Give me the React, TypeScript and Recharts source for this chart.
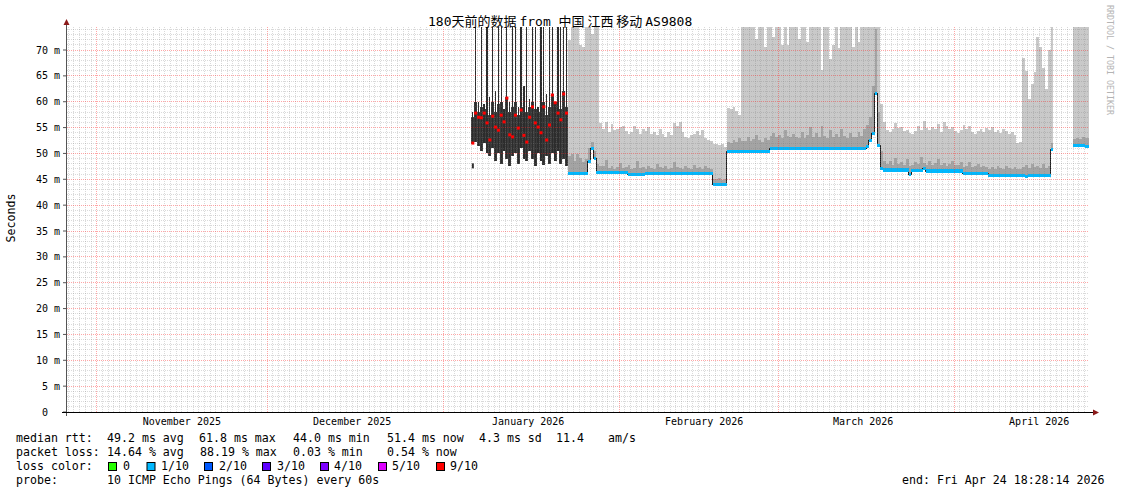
import React from 'react';
import { ComposedChart, Area, Bar, Scatter, XAxis, YAxis, ReferenceLine } from 'recharts';

const W = 1121;
const H = 494;
const MONO = "'DejaVu Sans Mono', monospace";
const CJK = "'Noto Sans CJK SC', sans-serif";

// x axis in days since 1 Nov 2025 00:00; the window is the 180 days up to Fri Apr 24 18:28:14 2026
const END_DAY = 174.77;
const START_DAY = END_DAY - 180;
const MONTH_START = [0, 30, 61, 92, 120, 151];
const MONTH_MID = [15, 45, 76, 107, 135, 166];
const MONTH_LABEL = ['November 2025', 'December 2025', 'January 2026', 'February 2026', 'March 2026', 'April 2026'];

const Y_MAX = 74.45;
const Y_TICKS = [0, 5, 10, 15, 20, 25, 30, 35, 40, 45, 50, 55, 60, 65, 70];

// one sample every 12 h, first one 6 Jan 2026
const SLOT0 = 66;
const SLOT = 0.5;

// 6 Jan - 22 Jan: 9/10 loss, black smoke (ms)
const lossLo = [51.9, 52.2, 51.5, 50.5, 52.0, 50.0, 49.5, 51.0, 48.5, 50.0, 48.0, 50.5, 49.0, 47.5, 49.5, 50.0, 48.0,
  51.0, 49.0, 48.5, 50.5, 49.0, 47.5, 50.0, 48.5, 47.8, 49.5, 48.0, 50.0, 48.5, 50.5, 48.0, 49.0, 47.5];
const lossCore = [57, 60, 58, 59, 58.5, 59, 57.5, 60, 58, 59.5, 60, 57, 61, 58, 59, 60, 57.5,
  59, 60.5, 58, 59, 60, 58.5, 58, 59.5, 60, 57.5, 59, 61.5, 60, 59, 58.5, 62, 59];
const lossHi = [58, 74.4, 60, 74.4, 59.5, 74.4, 61, 74.4, 62, 74.4, 74.4, 58.5, 74.4, 60, 74.4, 74.4, 59,
  74.4, 63, 74.4, 60.5, 74.4, 74.4, 59, 74.4, 74.4, 61.5, 74.4, 74.4, 60, 74.4, 74.4, 74.4, 74.4];
const lossMedian = [52.0, 57.8, 57.0, 56.9, 57.8, 55.9, 52.6, 57.2, 55.1, 54.5, 57.4, 56.1, 60.7, 53.6, 53.2, 57.4, 54.9,
  58.4, 53.5, 52.2, 57.0, 59.0, 55.9, 55.1, 54.0, 59.0, 52.6, 55.5, 61.3, 59.8, 57.8, 56.5, 61.5, 57.8];
const strayPing = [47.6];

// 23 Jan - 24 Apr, 12 h steps (null = no data)
const SMOKE0 = 83;
const smokeHi = [
  72, 74.4, 74.4, 74.4, 71, 70.6, 74.4, 74.4, 73, 74.4, 74.4, 55.8,
  54.8, 56.1, 54.1, 55.7, 54.5, 54.8, 55.1, 55.4, 54.4, 53.8,
  54.1, 55.4, 54.8, 53.8, 54.8, 54.4, 55.1, 53.8, 54.1, 53.5,
  54.8, 53.8, 53.2, 54.1, 53.5, 55.8, 55.4, 56.1, 54.1, 53.2,
  52.9, 53.5, 53.8, 54.4, 53.5, 54.6, 53.0, 52.6, 52.4, 51.8,
  51.9, 51.6, 51.9, 51.2,
  58.8, 58.5, 59.0, 58.2, 57.5, 74.4,
  74.4, 74.4, 74.4, 74.4, 72.2, 74.4, 74.4, 70.6, 74.4, 74.4,
  72.5, 74.4, 74.4, 71.0, 74.4, 71.0, 74.4, 74.4, 74.4, 72.2,
  74.4, 74.4, 71.5, 74.4, 74.4, 74.4, 74.4, 66.1, 74.4, 74.4,
  68.3, 70.9, 74.4, 70.3, 74.4, 74.4, 74.4, 74.4, 70.6, 74.4,
  71.5, 74.4, 74.4, 74.4,
  74.4, 74.4, 74.4, 74.4, 59.5, 56.0,
  54.5, 54.1, 54.8, 55.8, 54.9, 55.2, 54.3, 54.6, 54.0, 53.7,
  54.4, 55.3, 54.6, 56.3, 55.0, 54.5, 55.1, 54.8, 55.6, 54.2,
  56.0, 55.3, 54.7, 55.2, 54.4, 54.0, 54.6, 55.5, 54.8, 55.4,
  54.2, 53.8, 54.4, 54.7, 54.1, 55.0, 54.6, 55.2, 54.1, 54.5,
  53.9, 54.8, 54.3, 53.8, 54.2, 53.6, 52.0, 52.2, 68.5,
  66.0, 60.5, 63.5, 65.7, 72.5, 70.5, 66.5, 62.5, 70.0, 74.4,
  null, null, null, null, null, null, null,
  74.4, 74.4, 74.4, 74.4, 74.4, 74.4,
];
const smokeDark = [
  49.5, 49.8, 48.6, 49.9, 49.2, 48.4, 49.0, 51.0, 52.3, 50.5, 48.0, 47.6,
  47.5, 48.8, 47.2, 47.6, 47.0, 47.4, 48.2, 47.1, 47.3, 47.8,
  47.0, 47.2, 48.5, 47.1, 47.4, 47.0, 47.6, 47.2, 47.0, 48.0,
  47.3, 47.1, 47.5, 47.0, 47.2, 48.3, 47.4, 47.1, 47.0, 47.6,
  47.2, 47.0, 47.8, 47.1, 47.3, 47.0, 47.5, 47.2, 47.0, 45.0,
  45.0, 45.2, 44.9, 45.0,
  52.3, 52.0, 52.6, 52.2, 53.0, 52.4,
  52.5, 53.2, 52.4, 52.8, 53.6, 52.6, 52.3, 53.0, 52.6, 53.3,
  54.0, 53.2, 53.6, 52.9, 54.6, 53.4, 53.1, 53.8, 53.2, 52.9,
  54.2, 53.0, 53.5, 55.1, 53.2, 54.0, 53.1, 55.3, 53.4, 53.0,
  54.5, 53.2, 53.7, 53.1, 54.8, 53.3, 53.0, 53.9, 53.2, 53.1,
  54.2, 53.4, 54.8, 55.5,
  57.0, 63.0, 74.0, 58.0, 50.5, 48.5,
  48.0, 48.6, 47.8, 49.2, 47.9, 48.3, 47.7, 48.9, 47.6, 47.8,
  48.4, 47.9, 49.3, 48.2, 47.7, 48.5, 47.8, 48.1, 49.0, 47.7,
  48.2, 47.6, 47.9, 48.6, 47.7, 47.8, 48.3, 47.4, 47.6, 48.4,
  47.3, 47.5, 47.9, 47.3, 47.6, 47.4, 47.0, 47.3, 46.9, 47.5,
  47.1, 47.0, 47.6, 47.1, 46.9, 47.3, 47.0, 46.9, 47.4, 47.8,
  47.2, 48.0, 47.3, 47.6, 47.1, 47.9, 47.2, 47.5, 52.0,
  null, null, null, null, null, null, null,
  52.8, 53.0, 52.7, 53.2, 52.9, 53.0,
];
const medianRtt = [
  46.2, 46.2, 46.2, 46.2, 46.2, 46.2, 46.2, 48.5, 51.0, 49.0, 46.3, 46.3,
  46.3, 46.3, 46.3, 46.3, 46.3, 46.3, 46.3, 46.3, 46.3, 46.0,
  46.0, 46.0, 46.0, 46.0, 46.0, 46.1, 46.1, 46.1, 46.1, 46.1,
  46.1, 46.1, 46.1, 46.1, 46.1, 46.1, 46.2, 46.2, 46.2, 46.2,
  46.2, 46.2, 46.2, 46.2, 46.2, 46.2, 46.2, 46.2, 46.2, 44.0,
  44.0, 44.0, 44.0, 44.0,
  50.4, 50.4, 50.4, 50.4, 50.4, 50.4,
  50.4, 50.4, 50.4, 50.4, 50.4, 50.4, 50.4, 50.4, 50.4, 51.0,
  51.0, 51.0, 51.0, 51.0, 51.0, 51.0, 51.0, 51.0, 51.0, 51.0,
  51.0, 51.0, 51.0, 51.0, 51.0, 51.0, 51.0, 51.0, 51.0, 51.0,
  51.0, 51.0, 51.0, 51.0, 51.0, 51.0, 51.0, 51.0, 51.0, 51.0,
  51.0, 51.0, 51.0, 51.4,
  52.5, 53.8, 61.6, 51.6, 47.1, 46.8,
  46.8, 46.8, 46.8, 46.8, 46.8, 46.8, 46.8, 46.8, 46.0, 46.7,
  46.7, 46.7, 46.7, 47.1, 46.6, 46.6, 46.6, 46.6, 46.6, 46.6,
  46.6, 46.6, 46.6, 46.6, 46.6, 46.6, 46.6, 46.2, 46.2, 46.2,
  46.2, 46.2, 46.2, 46.2, 46.2, 46.2, 45.8, 45.8, 45.8, 45.8,
  45.8, 45.8, 45.8, 45.8, 45.8, 45.8, 45.8, 45.8, 45.8,
  45.5, 45.8, 45.8, 45.8, 45.8, 45.8, 45.8, 45.8, 45.8, 50.8,
  null, null, null, null, null, null, null,
  51.6, 51.6, 51.6, 51.6, 51.3, 51.4,
];

const LOSS_LABELS = ['0', '1/10', '2/10', '3/10', '4/10', '5/10', '9/10'];
const LOSS_COLORS = ['#26ff00', '#00b8ff', '#0059ff', '#5e00ff', '#7e00ff', '#dd00ff', '#ff0000'];

const barRows = lossLo.map((lo, i) => ({ d: SLOT0 + i * SLOT + SLOT / 2, range: [lo, lossHi[i]] }));
const redRows = lossMedian.map((v, i) => ({ d: SLOT0 + i * SLOT + SLOT / 2, v }));
const strayRows = strayPing.map((v) => ({ d: SLOT0 + SLOT / 2, v }));
const coreRows = lossLo.map((lo, i) => ({ d: SLOT0 + i * SLOT, lo, core: lossCore[i] }));
coreRows.push({ d: SLOT0 + lossLo.length * SLOT, lo: lossLo[lossLo.length - 1], core: lossCore[lossCore.length - 1] });

type SmokeRow = { d: number; med: number | null; dk: number | null; hi: number | null };
const smokeRows: SmokeRow[] = [];
medianRtt.forEach((m, k) => {
  const d = SMOKE0 + k * SLOT;
  smokeRows.push({ d, med: m, dk: smokeDark[k], hi: smokeHi[k] });
  // step-after needs a closing point at the end of every run
  if (m != null && (k === medianRtt.length - 1 || medianRtt[k + 1] == null)) {
    smokeRows.push({ d: d + SLOT, med: m, dk: smokeDark[k], hi: smokeHi[k] });
  }
});

const minorDays: number[] = [];
for (let d = Math.ceil(START_DAY); d < END_DAY; d++) if (!MONTH_START.includes(d)) minorDays.push(d);
const minorMs: number[] = [];
for (let v = 1; v < Y_MAX; v++) if (v % 5 !== 0) minorMs.push(v);

const css = `
.recharts-reference-line line, .recharts-area path, .recharts-bar-rectangle path { shape-rendering: crispEdges; }
`;

function MonthTick(p: any) {
  const i = MONTH_MID.indexOf(p.payload.value);
  return (
    <text x={p.x} y={p.y} textAnchor="middle" dominantBaseline="central" fontFamily={MONO} fontSize={10} fill="#000">
      {MONTH_LABEL[i]}
    </text>
  );
}

function MsTick(p: any) {
  const v = p.payload.value;
  return (
    <text x={v === 0 ? p.x - 12 : p.x} y={p.y} textAnchor="end" dominantBaseline="central" fontFamily={MONO} fontSize={10} fill="#000">
      {v === 0 ? '0' : `${v} m`}
    </text>
  );
}

const legendText = { fontFamily: MONO, fontSize: 11.6, fill: '#000', dominantBaseline: 'central' as const };
const BOX_X = [108, 146.5, 204, 262, 320, 378, 436];
const BOX_LABEL_X = [123, 161, 219, 277, 334, 392, 450];

export default function App() {
  return (
    <div style={{ position: 'fixed', left: 0, top: 0, width: W, height: H, background: '#fff' }}>
      <style>{css}</style>
      <ComposedChart width={W} height={H} data={barRows} margin={{ top: 27, right: 32, bottom: 52, left: 0 }}>
        <XAxis
          type="number"
          dataKey="d"
          domain={[START_DAY, END_DAY]}
          allowDataOverflow
          ticks={MONTH_MID}
          interval={0}
          tick={MonthTick}
          tickLine={false}
          axisLine={false}
          tickSize={0}
          tickMargin={9}
          height={30}
        />
        <YAxis
          type="number"
          domain={[0, Y_MAX]}
          allowDataOverflow
          ticks={Y_TICKS}
          interval={0}
          tick={MsTick}
          tickLine={{ stroke: '#555' }}
          axisLine={false}
          tickSize={4}
          tickMargin={3}
          width={67}
        />
        <Area
          data={coreRows}
          dataKey={(r: any) => [r.lo, r.core]}
          type="stepAfter"
          fill="#3a3a3a"
          fillOpacity={1}
          stroke="none"
          dot={false}
          activeDot={false}
          isAnimationActive={false}
        />
        <Bar dataKey="range" fill="#2c2c2c" barSize={2} isAnimationActive={false} />
        <Area
          data={smokeRows}
          dataKey={(r: SmokeRow) => (r.med == null ? null : [r.med, r.hi])}
          type="stepAfter"
          fill="#c9c9c9"
          fillOpacity={1}
          stroke="none"
          dot={false}
          activeDot={false}
          isAnimationActive={false}
        />
        <Area
          data={smokeRows}
          dataKey={(r: SmokeRow) => (r.med == null ? null : [r.med, r.dk])}
          type="stepAfter"
          fill="#a4a4a4"
          fillOpacity={1}
          stroke="none"
          dot={false}
          activeDot={false}
          isAnimationActive={false}
        />
        <Area
          data={smokeRows}
          dataKey="med"
          type="stepAfter"
          fill="none"
          stroke="#1a1a1a"
          strokeWidth={1}
          dot={false}
          activeDot={false}
          isAnimationActive={false}
        />
        <Area
          data={smokeRows}
          dataKey={(r: SmokeRow) => (r.med == null ? null : [r.med - 0.3, r.med + 0.3])}
          type="stepAfter"
          fill="#00b8ff"
          fillOpacity={1}
          stroke="none"
          dot={false}
          activeDot={false}
          isAnimationActive={false}
        />
        {minorDays.map((d) => (
          <ReferenceLine key={'vd' + d} x={d} stroke="#7a7a7a" strokeOpacity={0.28} strokeDasharray="1 1" />
        ))}
        {minorMs.map((v) => (
          <ReferenceLine key={'hm' + v} y={v} stroke="#7a7a7a" strokeOpacity={0.28} strokeDasharray="1 1" />
        ))}
        {MONTH_START.map((d) => (
          <ReferenceLine key={'vm' + d} x={d} stroke="#ff2020" strokeOpacity={0.4} strokeDasharray="1 1" />
        ))}
        {Y_TICKS.filter((v) => v > 0).map((v) => (
          <ReferenceLine key={'hM' + v} y={v} stroke="#ff2020" strokeOpacity={0.4} strokeDasharray="1 1" />
        ))}
        <Scatter
          data={strayRows}
          dataKey="v"
          isAnimationActive={false}
          shape={(p: any) => <rect x={p.cx - 1} y={p.cy - 2.5} width={2} height={5} fill="#303030" />}
        />
        <Scatter
          data={redRows}
          dataKey="v"
          isAnimationActive={false}
          shape={(p: any) => <rect x={p.cx - 1.5} y={p.cy - 1.5} width={3} height={3} fill="#ff0000" />}
        />
      </ComposedChart>

      <svg width={W} height={H} style={{ position: 'absolute', left: 0, top: 0, pointerEvents: 'none' }}>
        {/* axes with arrows */}
        <line x1={66.5} y1={21} x2={66.5} y2={416} stroke="#555" />
        <polygon points="66.5,19 63.5,25 69.5,25" fill="#8b1a1a" />
        <line x1={62} y1={412.5} x2={1094} y2={412.5} stroke="#000" />
        <polygon points="1099,412.5 1093,409.5 1093,415.5" fill="#8b1a1a" />

        <text x={428} y={25.5} fontSize={13} fill="#000" style={{ whiteSpace: 'pre' }}>
          <tspan fontFamily={MONO}>180</tspan>
          <tspan fontFamily={CJK}>天前的数据 </tspan>
          <tspan fontFamily={MONO}>from </tspan>
          <tspan fontFamily={CJK}>中国 江西 移动 </tspan>
          <tspan fontFamily={MONO}>AS9808</tspan>
        </text>

        <text transform="translate(11,218) rotate(-90)" textAnchor="middle" dominantBaseline="central" fontFamily={MONO} fontSize={11.6} fill="#000">
          Seconds
        </text>
        <text transform="translate(1107,5) rotate(90)" fontFamily={MONO} fontSize={8.3} fill="#b4b4b4">
          RRDTOOL / TOBI OETIKER
        </text>

        <g {...legendText}>
          <text x={16} y={438}>median rtt:</text>
          <text x={107} y={438}>49.2 ms avg</text>
          <text x={199} y={438}>61.8 ms max</text>
          <text x={293} y={438}>44.0 ms min</text>
          <text x={387} y={438}>51.4 ms now</text>
          <text x={479} y={438}>4.3 ms sd</text>
          <text x={556} y={438}>11.4</text>
          <text x={608} y={438}>am/s</text>

          <text x={16} y={452}>packet loss:</text>
          <text x={107} y={452}>14.64 % avg</text>
          <text x={200} y={452}>88.19 % max</text>
          <text x={293} y={452}>0.03 % min</text>
          <text x={387} y={452}>0.54 % now</text>

          <text x={16} y={466}>loss color:</text>
          {LOSS_LABELS.map((l, i) => (
            <text key={l} x={BOX_LABEL_X[i]} y={466}>{l}</text>
          ))}

          <text x={16} y={480}>probe:</text>
          <text x={107} y={480}>10 ICMP Echo Pings (64 Bytes) every 60s</text>
          <text x={902} y={480}>end: Fri Apr 24 18:28:14 2026</text>
        </g>
        {LOSS_COLORS.map((c, i) => (
          <rect key={c} x={BOX_X[i] + 0.5} y={462.5} width={8} height={8} fill={c} stroke="#000" strokeWidth={1} />
        ))}
      </svg>
    </div>
  );
}
